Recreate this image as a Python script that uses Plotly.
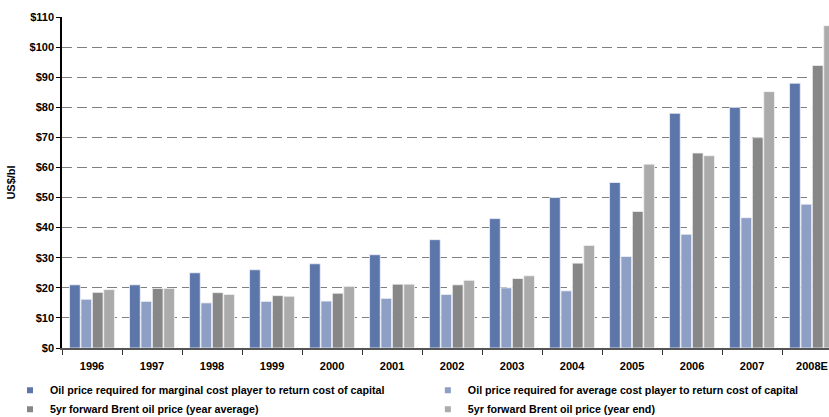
import plotly.graph_objects as go

years = ["1996", "1997", "1998", "1999", "2000", "2001", "2002", "2003", "2004", "2005", "2006", "2007", "2008E"]
marginal_cost = [21, 21, 25, 26, 28, 31, 36, 43, 50, 55, 78, 80, 88]
average_cost = [16.2, 15.5, 15.0, 15.5, 15.6, 16.5, 17.8, 20.0, 19.0, 30.4, 37.8, 43.3, 47.8]
brent_avg = [18.5, 19.8, 18.4, 17.4, 18.2, 21.2, 21.0, 23.1, 28.2, 45.4, 64.8, 69.9, 93.9]
brent_end = [19.4, 19.8, 17.8, 17.2, 20.5, 21.2, 22.5, 24.0, 34.1, 61.1, 63.9, 85.2, 107.1]
y_ticks = list(range(0, 111, 10))
y_tick_labels = ["$" + str(v) for v in y_ticks]

series = [
    ("Oil price required for marginal cost player to return cost of capital", marginal_cost, "#5C76AA", "legend"),
    ("Oil price required for average cost player to return cost of capital", average_cost, "#8E9FC6", "legend2"),
    ("5yr forward Brent oil price (year average)", brent_avg, "#878787", "legend"),
    ("5yr forward Brent oil price (year end)", brent_end, "#ABABAB", "legend2"),
]

fig = go.Figure()
for name, vals, col, lg in series:
    fig.add_trace(go.Bar(
        x=years, y=vals, name=name, showlegend=False,
        marker=dict(color=col, line=dict(color="#F2F2F6", width=0.8)),
    ))
for name, vals, col, lg in series:
    fig.add_trace(go.Scatter(
        x=[None], y=[None], mode="markers", name=name, legend=lg,
        marker=dict(symbol="square", size=6, color=col),
    ))

font_family = "Liberation Sans, Arial, sans-serif"
legend_font = dict(family=font_family, size=10.7, color="#000000", weight="bold")
fig.update_layout(
    width=829, height=417,
    margin=dict(l=62, r=0, t=17, b=69, autoexpand=False),
    paper_bgcolor="white", plot_bgcolor="white",
    barmode="group", bargap=0.24, bargroupgap=0.06,
    font=dict(family=font_family, size=11, color="#000000"),
    showlegend=True,
    legend=dict(
        orientation="v", x=-0.0678, xanchor="left", y=-0.084, yanchor="top",
        font=legend_font, tracegroupgap=0, bgcolor="rgba(0,0,0,0)",
    ),
    legend2=dict(
        orientation="v", x=0.477, xanchor="left", y=-0.084, yanchor="top",
        font=legend_font, tracegroupgap=0, bgcolor="rgba(0,0,0,0)",
    ),
    xaxis=dict(
        type="category", range=[-0.5, 12.283],
        showline=True, linecolor="#555555", linewidth=1.5,
        ticks="outside", tickson="boundaries", ticklen=5, tickcolor="#333333",
        ticklabelstandoff=7,
        tickfont=dict(family=font_family, size=11, weight="bold"),
        showgrid=False,
    ),
    yaxis=dict(
        range=[0, 110], tickvals=y_ticks, ticktext=y_tick_labels,
        showline=True, linecolor="#000000", linewidth=1.5,
        ticks="outside", ticklen=4, tickcolor="#000000",
        tickfont=dict(family=font_family, size=11, weight="bold"),
        showgrid=True, gridcolor="#7F7F7F", gridwidth=1, griddash="10px,5px",
        zeroline=False,
        title=dict(text="US$/bl", font=dict(family=font_family, size=11, weight="bold"), standoff=12),
    ),
)

fig.write_html("out.html")
